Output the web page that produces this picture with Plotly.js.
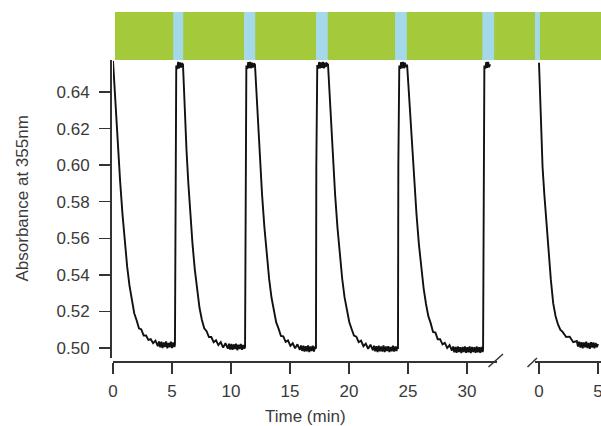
<!DOCTYPE html>
<html>
<head>
<meta charset="utf-8">
<script src="https://cdn.plot.ly/plotly-3.0.1.min.js"></script>
<style>html,body{margin:0;padding:0;background:#fff;}#chart{width:601px;height:426px;}</style>
</head>
<body>
<div id="chart"></div>
<script>
// ---- Data (time in min, absorbance at 355 nm) ----
var c1T = [0, 0.1, 0.2, 0.3, 0.45, 0.6, 0.8, 1.0, 1.2, 1.4, 1.6, 1.8, 2.0, 2.2, 2.4, 2.6, 2.8, 3.0, 3.2, 3.4, 3.6, 3.8, 3.9, 4.0, 4.1, 4.2, 4.3, 4.4, 4.5, 4.6, 4.7, 4.8, 4.9, 5.0, 5.1, 5.2, 5.25];
var c1A = [0.657, 0.645, 0.634, 0.622, 0.606, 0.5915, 0.5735, 0.5575, 0.5445, 0.5340, 0.5255, 0.5190, 0.5152, 0.5108, 0.5102, 0.5068, 0.5068, 0.5044, 0.5048, 0.5026, 0.5040, 0.5010, 0.5036, 0.5004, 0.5034, 0.5000, 0.5030, 0.5006, 0.5036, 0.4998, 0.5028, 0.5004, 0.5034, 0.5000, 0.5030, 0.5006, 0.5018];

var c2T = [5.28, 5.31, 5.36, 5.44, 5.52, 5.60, 5.68, 5.76, 5.84,
  5.93, 6.03, 6.13, 6.23, 6.38, 6.53, 6.73, 6.93, 7.13, 7.33, 7.53, 7.73, 7.93, 8.13, 8.33, 8.53, 8.73, 8.93, 9.13, 9.33, 9.53, 9.73,
  9.83, 9.93, 10.03, 10.13, 10.23, 10.33, 10.43, 10.53, 10.63, 10.73, 10.83, 10.93, 11.03, 11.13, 11.19];
var c2A = [0.600, 0.648, 0.6545, 0.6525, 0.6565, 0.6530, 0.6562, 0.6534, 0.6558,
  0.655, 0.638, 0.622, 0.608, 0.5905, 0.5755, 0.5575, 0.5430, 0.5310, 0.5220, 0.5155, 0.5108, 0.5092, 0.5060, 0.5060, 0.5032, 0.5042, 0.5016, 0.5032, 0.5002, 0.5026, 0.4996,
  0.5024, 0.4992, 0.5022, 0.4990, 0.5020, 0.4994, 0.5024, 0.4988, 0.5018, 0.4994, 0.5022, 0.4990, 0.5016, 0.4996, 0.5005];

var c3T = [11.22, 11.25, 11.30, 11.38, 11.46, 11.54, 11.62, 11.70, 11.78, 11.86, 11.94,
  12.03, 12.13, 12.23, 12.33, 12.48, 12.63, 12.83, 13.03, 13.23, 13.43, 13.63, 13.83, 14.03, 14.23, 14.43, 14.63, 14.83, 15.03, 15.23, 15.43, 15.63, 15.83,
  15.93, 16.03, 16.13, 16.23, 16.33, 16.43, 16.53, 16.63, 16.73, 16.83, 16.93, 17.03, 17.13, 17.2];
var c3A = [0.600, 0.648, 0.6545, 0.6527, 0.6563, 0.6531, 0.6564, 0.6530, 0.6560, 0.6534, 0.6556,
  0.655, 0.642, 0.629, 0.616, 0.599, 0.584, 0.566, 0.5505, 0.5378, 0.5276, 0.5198, 0.5140, 0.5106, 0.5066, 0.5064, 0.5034, 0.5042, 0.5012, 0.5026, 0.4998, 0.5020, 0.4990,
  0.5014, 0.4984, 0.5012, 0.4980, 0.5010, 0.4982, 0.5014, 0.4978, 0.5008, 0.4984, 0.5012, 0.4980, 0.5008, 0.4996];

var c4T = [17.23, 17.26, 17.31, 17.39, 17.47, 17.55, 17.63, 17.71, 17.79, 17.87, 17.95, 18.03, 18.11,
  18.22, 18.32, 18.42, 18.52, 18.67, 18.82, 19.02, 19.22, 19.42, 19.62, 19.82, 20.02, 20.22, 20.42, 20.62, 20.82, 21.02, 21.22, 21.42, 21.62, 21.82, 22.02,
  22.12, 22.22, 22.32, 22.42, 22.52, 22.62, 22.72, 22.82, 22.92, 23.02, 23.12, 23.22, 23.32, 23.42, 23.52, 23.62, 23.72, 23.82, 23.92, 24.02, 24.12, 24.15];
var c4A = [0.600, 0.648, 0.6548, 0.6528, 0.6564, 0.6530, 0.6562, 0.6532, 0.6565, 0.6529, 0.6560, 0.6536, 0.6556,
  0.655, 0.642, 0.629, 0.616, 0.599, 0.584, 0.566, 0.5505, 0.5380, 0.5278, 0.5200, 0.5142, 0.5104, 0.5068, 0.5062, 0.5032, 0.5040, 0.5010, 0.5024, 0.4996, 0.5018, 0.4988,
  0.5012, 0.4982, 0.5010, 0.4978, 0.5012, 0.4982, 0.5008, 0.4980, 0.5014, 0.4978, 0.5008, 0.4984, 0.5010, 0.4978, 0.5006, 0.4982, 0.5012, 0.4980, 0.5008, 0.4984, 0.5010, 0.4994];

var c5T = [24.18, 24.21, 24.26, 24.34, 24.42, 24.50, 24.58, 24.66, 24.74, 24.82,
  24.92, 25.02, 25.12, 25.22, 25.37, 25.52, 25.72, 25.92, 26.12, 26.32, 26.52, 26.72, 26.92, 27.12, 27.32, 27.52, 27.72, 27.92, 28.12, 28.32, 28.52, 28.72,
  28.82, 28.92, 29.02, 29.12, 29.22, 29.32, 29.42, 29.52, 29.62, 29.72, 29.82, 29.92, 30.02, 30.12, 30.22, 30.32, 30.42, 30.52, 30.62, 30.72, 30.82, 30.92, 31.02, 31.12, 31.22, 31.32, 31.36];
var c5A = [0.600, 0.648, 0.6545, 0.6526, 0.6563, 0.6530, 0.6565, 0.6530, 0.6560, 0.6536,
  0.655, 0.645, 0.634, 0.622, 0.606, 0.5912, 0.5730, 0.5568, 0.5436, 0.5328, 0.5242, 0.5174, 0.5136, 0.5088, 0.5084, 0.5048, 0.5048, 0.5020, 0.5028, 0.5000, 0.5016, 0.4986,
  0.5008, 0.4976, 0.5006, 0.4974, 0.5008, 0.4978, 0.5004, 0.4972, 0.5006, 0.4978, 0.5008, 0.4974, 0.5004, 0.4976, 0.5008, 0.4972, 0.5006, 0.4978, 0.5004, 0.4974, 0.5008, 0.4976, 0.5004, 0.4974, 0.5006, 0.4978, 0.4990];

var c6T = [31.39, 31.42, 31.47, 31.55, 31.63, 31.71, 31.79, 31.87, 31.95];
var c6A = [0.600, 0.648, 0.6545, 0.6528, 0.6564, 0.6532, 0.6564, 0.6536, 0.6552];

// second run (after the axis break)
var p2T = [0, 0.1, 0.2, 0.3, 0.45, 0.6, 0.8, 1.0, 1.2, 1.4, 1.6, 1.8, 2.0, 2.3, 2.6, 2.9, 3.2,
  3.3, 3.4, 3.5, 3.6, 3.7, 3.8, 3.9, 4.0, 4.1, 4.2, 4.3, 4.4, 4.5, 4.6, 4.7, 4.8, 4.9, 5.0];
var p2A = [0.656, 0.635, 0.613, 0.599, 0.584, 0.570, 0.5525, 0.5375, 0.5245, 0.5175, 0.5130, 0.5100, 0.5088, 0.5060, 0.5062, 0.5032, 0.5038,
  0.5008, 0.5034, 0.5002, 0.5032, 0.4998, 0.5030, 0.5004, 0.5034, 0.5000, 0.5028, 0.4996, 0.5032, 0.5002, 0.5030, 0.4998, 0.5028, 0.5004, 0.5022];

// blue-light irradiation windows (min) on the top bar
var blueStart = [5.1, 11.1, 17.2, 23.9, 31.3];
var blueEnd   = [5.95, 12.05, 18.2, 24.9, 32.3];
var blue2Start = [-0.35];
var blue2End   = [0.08];

var xTicks = [0, 5, 10, 15, 20, 25, 30];
var x2Ticks = [0, 5];
var yTicks = [0.50, 0.52, 0.54, 0.56, 0.58, 0.60, 0.62, 0.64];

// ---- build traces ----
var mainT = [].concat(c1T, c2T, c3T, c4T, c5T, c6T);
var mainA = [].concat(c1A, c2A, c3A, c4A, c5A, c6A);

var lineStyle = {color: '#111111', width: 1.9};
var traces = [
  {x: mainT, y: mainA, xaxis: 'x', yaxis: 'y', type: 'scatter', mode: 'lines', line: lineStyle, hoverinfo: 'skip'},
  {x: p2T, y: p2A, xaxis: 'x2', yaxis: 'y', type: 'scatter', mode: 'lines', line: lineStyle, hoverinfo: 'skip'}
];

var W = 601, H = 426;
var barY0 = (H - 60) / H, barY1 = (H - 12) / H;
var green = '#a4c93b', blue = '#a3d9e8';

var shapes = [
  {type: 'rect', xref: 'paper', yref: 'paper', x0: 115 / W, x1: 1, y0: barY0, y1: barY1, fillcolor: green, line: {width: 0}, layer: 'below'}
];
blueStart.forEach(function (s, i) {
  shapes.push({type: 'rect', xref: 'x', yref: 'paper', x0: s, x1: blueEnd[i], y0: barY0, y1: barY1, fillcolor: blue, line: {width: 0}, layer: 'below'});
});
blue2Start.forEach(function (s, i) {
  shapes.push({type: 'rect', xref: 'x2', yref: 'paper', x0: s, x1: blue2End[i], y0: barY0, y1: barY1, fillcolor: blue, line: {width: 0}, layer: 'below'});
});
// axis-break marks
shapes.push({type: 'line', xref: 'paper', yref: 'paper', x0: 488.5 / W, y0: (H - 367) / H, x1: 503 / W, y1: (H - 354) / H, line: {color: '#333', width: 1.5}});
shapes.push({type: 'line', xref: 'paper', yref: 'paper', x0: 527.5 / W, y0: (H - 367) / H, x1: 537 / W, y1: (H - 358) / H, line: {color: '#333', width: 1.5}});

var axisCommon = {
  showline: true, linecolor: '#333', linewidth: 1.5,
  ticks: 'outside', ticklen: 11, tickwidth: 1.5, tickcolor: '#333',
  showgrid: false, zeroline: false, fixedrange: true, automargin: false,
  ticklabeloverflow: 'allow',
  tickfont: {size: 17, color: '#3a3a3a'}
};

var layout = {
  width: W, height: H,
  margin: {l: 0, r: 0, t: 0, b: 0},
  paper_bgcolor: '#ffffff', plot_bgcolor: 'rgba(0,0,0,0)',
  showlegend: false,
  font: {family: 'Liberation Sans, Arial, Helvetica, sans-serif', size: 17, color: '#3a3a3a'},
  xaxis: Object.assign({}, axisCommon, {
    domain: [113 / W, 497 / W], range: [0, 32.54], anchor: 'free', position: (H - 361) / H,
    tickvals: xTicks, ticklabelstandoff: 3
  }),
  xaxis2: Object.assign({}, axisCommon, {
    domain: [535 / W, 1], range: [-0.34, 5.25], anchor: 'free', position: (H - 361) / H,
    tickvals: x2Ticks, ticklabelstandoff: 3
  }),
  yaxis: Object.assign({}, axisCommon, {
    domain: [(H - 358) / H, (H - 60) / H], range: [0.49453, 0.6575], anchor: 'free', position: 110 / W,
    tickvals: yTicks, tickformat: '.2f', ticklabelstandoff: 6
  }),
  annotations: [
    {text: 'Absorbance at 355nm', xref: 'paper', yref: 'paper', x: 21.5 / W, y: (H - 199) / H,
     xanchor: 'center', yanchor: 'middle', textangle: -90, showarrow: false,
     font: {size: 17, color: '#3a3a3a'}},
    {text: 'Time (min)', xref: 'paper', yref: 'paper', x: 305 / W, y: (H - 416) / H,
     xanchor: 'center', yanchor: 'middle', showarrow: false,
     font: {size: 17, color: '#3a3a3a'}}
  ],
  shapes: shapes
};

Plotly.newPlot('chart', traces, layout, {staticPlot: true, displayModeBar: false});
</script>
</body>
</html>
